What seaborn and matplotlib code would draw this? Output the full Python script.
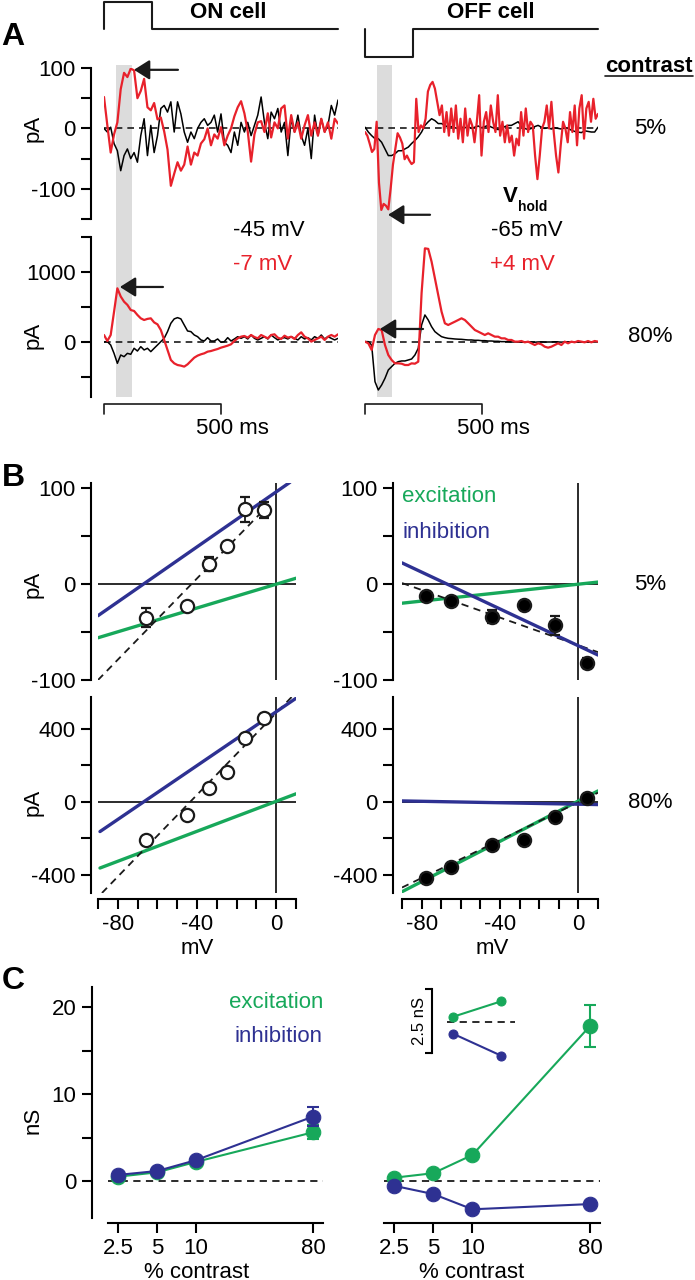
import numpy as np
import matplotlib
matplotlib.use("Agg")
import matplotlib.pyplot as plt
import matplotlib.transforms as mtransforms
from matplotlib.lines import Line2D
from matplotlib.patches import Rectangle
from matplotlib.ticker import NullLocator
import seaborn as sns

# ---------------- panel A: currents (pA), evenly sampled over 0-1000 ms ----------------
on5_black = [0, -6, 2, -25, -37, -70, -45, -34, -50, -40, -56, -12, 16, -45, 5, -40, -12, 33, 38, 27,
             44, -6, 44, 24, -6, -23, -6, -17, 0, 10, 16, 5, 10, 22, -6, 24, -23, -28, -40, -6,
             -28, 10, -6, 10, -12, 5, 22, 52, 10, -17, 27, 16, 33, -6, 10, -45, 16, -6, 22, -12,
             -28, 0, -50, 22, -12, 16, -6, 5, 38, 22, 47]
on5_red = [52, 5, -40, -10, 10, 65, 92, 85, 99, 96, 50, 62, 82, 35, 30, 42, 15, 18, -5, -35,
           -95, -75, -56, -70, -60, -30, -60, -40, -45, -25, -18, 0, -28, -10, -17, 2, -28, -12, 0, 20,
           35, 45, 25, -5, -55, -10, 10, 12, -6, 25, -15, 10, 0, 33, 38, -17, 22, -6, 10, -17,
           5, 22, -12, 10, -12, 16, -6, 10, -17, 16, 8]
on80_black = [0, 5, -43, -162, -305, -186, -210, -162, -176, -90, -129, -67, -114, -90, -138, -90, -43, 5, 52, 148,
              267, 330, 348, 330, 243, 157, 148, 100, 76, 29, 14, 62, 14, 14, 43, -5, 5, 62, 14, 43,
              76, 52, 76, 43, 100, 52, 29, 52, 76, 43, 100, 62, 29, 52, 62, 43, 76, 52, 29, 76,
              43, 62, 29, 76, 52, 100, 43, 76, 52, 29, 52]
on80_red = [100, 14, 100, 430, 767, 650, 576, 530, 457, 443, 386, 338, 314, 330, 338, 280, 252, 171, 29, -114,
            -257, -305, -329, -338, -352, -319, -271, -224, -195, -176, -162, -138, -129, -114, -100, -81, -67, -52, -33, 14,
            52, 76, 86, 62, 100, 71, 52, 100, 76, 52, 100, 110, 62, 43, 90, 62, 76, 43, 100, 138,
            76, 52, 5, 29, 52, 76, 29, 76, 100, 76, 110]
off5_black = [2, -6, -12, -17, -17, -23, -34, -45, -45, -42, -37, -37, -34, -31, -25, -20, -14, -6, 5, 11,
              16, 13, 8, 8, 5, 2, 3, 1, 0, 2, 1, 3, 0, 2, 4, 1, 3, 5, 2, 0,
              -2, 0, 3, 5, 5, 8, 11, 4, 0, -2, 0, 3, 5, 2, 0, 1, -1, 1, 0, -1,
              1, 0, -3, -5, -6, -7, -4, -5, -6, -6, 2]
off5_red = [-6, -12, -25, -39, -34, 11, -90, -135, -125, -128, -134, -100, -60, -34, -8, -15, -25,
            -51, -45, -53, -59, -56, 49, -6, 5, 0, 16, 61, 72, 77, 66, 44, 22, 38, -6, 27, -12, 33, -6,
            38, -17, 16, -23, 33, -12, 16, 5, -23, 11, 55, -45, 11, 27, -6, 38, 11, -6, 55, -12, 11,
            -23, 5, -23, -12, -45, -17, -28, 27, -12, 33, -6, 11, 5, -45, -84, -45, 0, 11, 38, 0,
            44, -6, -45, -73, -28, 11, 0, -23, 27, -6, 38, -28, 33, 55, -17, 33, 44, 11, 49, 16, 24]
off80_black = [5, 5, -43, -567, -686, -614, -519, -400, -352, -305, -281, -271, -271, -257, -243, -186, -90, 243, 386, 314,
               219, 148, 110, 76, 62, 52, 48, 43, 40, 38, 33, 29, 29, 24, 24, 19, 19, 14, 14, 10,
               10, 5, 5, 5, 0, 0, 0, -2, 0, 2, 0, -3, 0, 2, -2, 0, 0, 3, 0, -2,
               0, 0, 2, -2, 0, 0, -2, 0, 2, 0, 0]
off80_red = [5, -19, -114, 100, 186, 170, -43, -186, -257, -305, -305, -310, -329, -329, -305, -310, -281, 700, 1338, 1330,
             1148, 910, 671, 433, 267, 243, 267, 290, 314, 338, 314, 267, 219, 171, 148, 124, 100, 124, 100, 76,
             76, 52, 52, 29, 29, 5, 5, 14, -5, 5, -19, -43, -19, -33, -67, -81, -67, -43, -19, -43,
             5, -19, 5, -5, 14, 5, -5, 14, -5, 14, 5]

stim_t = [0, 0, 205, 205, 1000]
stim_on = [0, 1, 1, 0, 0]
stim_off = [0, -1, -1, 0, 0]
window_ms = [50, 118]
# arrows: (head ms, tail ms, pA)
arrow_on5 = (128, 316, 97)
arrow_on80 = (68, 252, 786)
arrow_off5 = (99, 279, -143)
arrow_off80 = (64, 249, 186)

# ---------------- panel B: I-V relations ----------------
on_v = [-66, -45, -34, -25, -16, -6]
on5_i = [-35, -23, 21, 40, 78, 77]
on5_err = [10, 3, 7, 3, 13, 8]
on80_i = [-208, -71, 77, 164, 350, 460]
on80_err = [8, 8, 8, 8, 8, 8]
off_v = [-78, -65, -44, -28, -12, 4.5]
off5_i = [-12, -18, -34, -22, -43, -82]
off5_err = [3, 3, 7, 3, 10, 5]
off80_i = [-416, -356, -236, -208, -82, 20]
off80_err = [8, 8, 8, 8, 8, 8]

on5_fit = ([-90, -4], [-100, 82])
on5_inh = ([-90, 7], [-33, 106])
on5_exc = ([-90, 10], [-56, 6])
on80_fit = ([-88, 8], [-500, 577])
on80_inh = ([-89, 10], [-163, 568])
on80_exc = ([-89, 10], [-363, 44])
off5_fit = ([-90, 10], [1, -71])
off5_inh = ([-90, 10], [22, -74])
off5_exc = ([-90, 10], [-20, 2])
off80_fit = ([-90, 10], [-470, 50])
off80_inh = ([-90, 10], [5, -15])
off80_exc = ([-90, 10], [-493, 60])

# ---------------- panel C: conductances (nS) ----------------
contrast = [2.5, 5, 10, 80]
on_exc = [0.5, 1.0, 2.2, 5.6]
on_exc_err = [0.1, 0.1, 0.2, 0.8]
on_inh = [0.7, 1.15, 2.4, 7.4]
on_inh_err = [0.1, 0.1, 0.2, 1.1]
off_exc = [0.38, 0.9, 3.0, 17.8]
off_exc_err = [0.1, 0.1, 0.2, 2.4]
off_inh = [-0.55, -1.5, -3.25, -2.65]
off_inh_err = [0.1, 0.1, 0.2, 0.2]
inset_x = [2.5, 5]
inset_exc = [0.19, 0.79]
inset_inh = [-0.47, -1.32]
inset_err = [0.02, 0.06]

RED = "#e8212b"
BLUE = "#2e3192"
GREEN = "#17a85a"
GRAY = "#dcdcdc"
FS = 16
W, H = 695, 1280
PT = 0.72  # points per pixel
LW_AX = 1.5

sns.set_theme(style="ticks", rc={"axes.edgecolor": "black", "xtick.color": "black",
                                 "ytick.color": "black", "text.color": "black",
                                 "axes.labelcolor": "black"})
plt.rcParams["font.family"] = ["Liberation Sans", "DejaVu Sans"]
plt.rcParams["axes.unicode_minus"] = False

fig = plt.figure(figsize=(W / 100, H / 100), dpi=100)


def box(x0, y0, x1, y1):
    return [x0 / W, 1 - y1 / H, (x1 - x0) / W, (y1 - y0) / H]


def ftext(x, y, s, **kw):
    kw.setdefault("fontsize", FS)
    kw.setdefault("ha", "center")
    kw.setdefault("va", "center")
    fig.text(x / W, 1 - y / H, s, **kw)


def bare(ax):
    for s in ax.spines.values():
        s.set_visible(False)
    ax.set_xticks([])
    ax.set_yticks([])
    ax.patch.set_visible(False)


def yaxis(ax, off_px, ticks, labels):
    sp = ax.spines["left"]
    sp.set_visible(True)
    sp.set_position(("outward", off_px * PT))
    sp.set_linewidth(LW_AX)
    ax.set_yticks(ticks)
    ax.set_yticklabels(labels)
    ax.tick_params(axis="y", direction="out", length=10 * PT, width=LW_AX,
                   labelsize=FS, pad=4)


def xaxis(ax, off_px, ticks, labels, pad):
    sp = ax.spines["bottom"]
    sp.set_visible(True)
    sp.set_position(("outward", off_px * PT))
    sp.set_linewidth(LW_AX)
    ax.set_xticks(ticks)
    ax.set_xticklabels(labels)
    ax.xaxis.set_minor_locator(NullLocator())
    ax.tick_params(axis="x", direction="out", length=10 * PT, width=LW_AX,
                   labelsize=FS, pad=pad)


# ================= A =================
def trace(ax, vals, color, lw):
    t = np.linspace(0, 1000, len(vals))
    sns.lineplot(x=t, y=vals, ax=ax, color=color, lw=lw, estimator=None, sort=False)


cols = [(104, 338, on5_black, on5_red, on80_black, on80_red, stim_on, arrow_on5, arrow_on80),
        (365, 598, off5_black, off5_red, off80_black, off80_red, stim_off, arrow_off5, arrow_off80)]
for ci, (x0, x1, b5, r5, b80, r80, stim, arr5, arr80) in enumerate(cols):
    st = fig.add_axes(box(x0, 0, x1, 60))
    bare(st)
    st.plot(stim_t, stim, color="k", lw=1.5, clip_on=False)
    st.set_xlim(0, 1000)
    if ci == 0:
        st.set_ylim(-31 / 27, 29 / 27)
    else:
        st.set_ylim(-31 / 28, 29 / 28)

    a5 = fig.add_axes(box(x0, 68, x1, 219))
    a80 = fig.add_axes(box(x0, 237, x1, 397))
    for ax, bk, rd, lim, arr in [(a5, b5, r5, (-150, 100), arr5), (a80, b80, r80, (-786, 1500), arr80)]:
        bare(ax)
        ax.set_xlim(0, 1000)
        ax.set_ylim(*lim)
        ax.axhline(0, color="k", lw=1.2, ls=(0, (4, 3)), zorder=1)
        trace(ax, bk, "black", 1.1)
        trace(ax, rd, RED, 1.6)
        ax.annotate("", xy=(arr[0], arr[2]), xytext=(arr[1], arr[2]),
                    arrowprops=dict(arrowstyle="-|>,head_length=0.95,head_width=0.6",
                                    color="k", lw=1.6, shrinkA=0, shrinkB=0,
                                    mutation_scale=10), annotation_clip=False, zorder=6)
    if ci == 0:
        yaxis(a5, 13, [-150, -100, -50, 0, 50, 100], ["", "-100", "", "0", "", "100"])
        yaxis(a80, 13, [-500, 0, 500, 1000, 1500], ["", "0", "", "1000", ""])

    tr = mtransforms.blended_transform_factory(a80.transData, fig.transFigure)
    fig.add_artist(Rectangle((window_ms[0], 1 - 397 / H), window_ms[1] - window_ms[0],
                             (397 - 65) / H, transform=tr, color=GRAY, lw=0, zorder=-1))
    fig.add_artist(Line2D([0, 0, 500, 500], [1 - 414 / H, 1 - 404 / H, 1 - 404 / H, 1 - 414 / H],
                          transform=tr, color="k", lw=1.2))

ftext(13, 37, "A", fontsize=23, fontweight="bold")
ftext(228, 13, "ON cell", fontweight="bold")
ftext(491, 13, "OFF cell", fontweight="bold")
ftext(605, 66, "contrast", fontweight="bold", ha="left")
fig.add_artist(Line2D([605 / W, 693 / W], [1 - 76 / H, 1 - 76 / H], color="k", lw=1.2))
ftext(650, 128, "5%")
ftext(650, 337, "80%")
ftext(33, 128, "pA", rotation=90)
ftext(33, 335, "pA", rotation=90)
ftext(233, 230, "-45 mV", ha="left")
ftext(233, 265, "-7 mV", ha="left", color=RED)
ftext(503, 197, "V", ha="left", fontweight="bold")
ftext(518, 207, "hold", ha="left", fontweight="bold", fontsize=10)
ftext(491, 230, "-65 mV", ha="left")
ftext(490, 265, "+4 mV", ha="left", color=RED)
ftext(196, 428, "500 ms", ha="left")
ftext(457, 428, "500 ms", ha="left")


# ================= B =================
def iv(ax, v, i, err, face, fit, inh, exc, ylim):
    bare(ax)
    ax.set_xlim(-90, 10)
    ax.set_ylim(*ylim)
    ax.axhline(0, color="k", lw=1.3, zorder=1)
    ax.axvline(0, color="k", lw=1.3, zorder=1)
    sns.lineplot(x=exc[0], y=exc[1], ax=ax, color=GREEN, lw=2.4, zorder=2)
    ax.plot(fit[0], fit[1], color="k", lw=1.3, ls=(0, (4, 3)), zorder=3)
    sns.lineplot(x=inh[0], y=inh[1], ax=ax, color=BLUE, lw=2.4, zorder=3)
    ax.errorbar(v, i, yerr=err, fmt="o", ms=9.5, mfc=face, mec="k", mew=1.6,
                ecolor="k", elinewidth=1.3, capsize=3.5, capthick=1.3, zorder=5)


b_on5 = fig.add_axes(box(98, 483, 296, 680))
b_on80 = fig.add_axes(box(98, 697, 296, 893))
b_off5 = fig.add_axes(box(402, 483, 598, 680))
b_off80 = fig.add_axes(box(402, 697, 598, 893))
iv(b_on5, on_v, on5_i, on5_err, "white", on5_fit, on5_inh, on5_exc, (-100, 105.2))
iv(b_on80, on_v, on80_i, on80_err, "white", on80_fit, on80_inh, on80_exc, (-500, 575))
iv(b_off5, off_v, off5_i, off5_err, "black", off5_fit, off5_inh, off5_exc, (-100, 105.2))
iv(b_off80, off_v, off80_i, off80_err, "black", off80_fit, off80_inh, off80_exc, (-500, 575))
for ax, off in [(b_on5, 7), (b_off5, 9)]:
    yaxis(ax, off, [-100, -50, 0, 50, 100], ["-100", "", "0", "", "100"])
for ax, off in [(b_on80, 7), (b_off80, 9)]:
    yaxis(ax, off, [-400, -200, 0, 200, 400], ["-400", "", "0", "", "400"])
    xaxis(ax, 6, list(range(-90, 11, 10)),
          ["", "-80", "", "", "", "-40", "", "", "", "0", ""], pad=3.5)

ftext(13, 478, "B", fontsize=23, fontweight="bold")
ftext(33, 584, "pA", rotation=90)
ftext(33, 802, "pA", rotation=90)
ftext(197, 948, "mV")
ftext(492, 948, "mV")
ftext(402, 497, "excitation", ha="left", color=GREEN)
ftext(402, 532, "inhibition", ha="left", color=BLUE)
ftext(650, 584, "5%")
ftext(650, 802, "80%")


# ================= C =================
def gplot(ax, x, y, err, color, ms, lw, cap):
    sns.lineplot(x=x, y=y, ax=ax, color=color, lw=lw, marker="o", ms=ms,
                 mec=color, mfc=color, zorder=4, clip_on=False)
    ax.errorbar(x, y, yerr=err, fmt="none", ecolor=color, elinewidth=lw,
                capsize=cap, capthick=lw, zorder=4, clip_on=False)


c_on = fig.add_axes(box(108, 987, 323, 1218))
c_off = fig.add_axes(box(384, 987, 600, 1218))
for ax, exc, exe, inh, ine in [(c_on, on_exc, on_exc_err, on_inh, on_inh_err),
                               (c_off, off_exc, off_exc_err, off_inh, off_inh_err)]:
    bare(ax)
    ax.set_xscale("log", base=2)
    ax.set_xlim(2.088, 95.7)
    ax.set_ylim(-4.25, 22.3)
    ax.axhline(0, color="k", lw=1.3, ls=(0, (4, 3)), zorder=1)
    gplot(ax, contrast, exc, exe, GREEN, 10.5, 1.5, 4.5)
    gplot(ax, contrast, inh, ine, BLUE, 10.5, 1.5, 4.5)
    xaxis(ax, 5, contrast, ["2.5", "5", "10", "80"], pad=3.5)
yaxis(c_on, 16, [0, 5, 10, 15, 20], ["0", "", "10", "", "20"])

ins = fig.add_axes(box(447, 989, 515, 1053.3))
bare(ins)
ins.set_xscale("log", base=2)
ins.set_xlim(2.29, 6.12)
ins.set_ylim(-1.23, 1.27)
ins.axhline(0, color="k", lw=1.3, ls=(0, (4, 3)), zorder=1)
gplot(ins, inset_x, inset_exc, inset_err, GREEN, 6.5, 1.5, 2.5)
gplot(ins, inset_x, inset_inh, inset_err, BLUE, 6.5, 1.5, 2.5)
ins.xaxis.set_minor_locator(NullLocator())
ins.set_xticks([])
yaxis(ins, 15, [-1.23, 1.27], ["", ""])
ins.tick_params(axis="y", length=5)
ftext(419, 1021, "2.5 nS", rotation=90, fontsize=12)

ftext(13, 981, "C", fontsize=23, fontweight="bold")
ftext(33, 1120, "nS", rotation=90)
ftext(323, 1002, "excitation", ha="right", color=GREEN)
ftext(323, 1037, "inhibition", ha="right", color=BLUE)
ftext(197, 1272, "% contrast")
ftext(472, 1272, "% contrast")

fig.savefig("out.png", dpi=100)
